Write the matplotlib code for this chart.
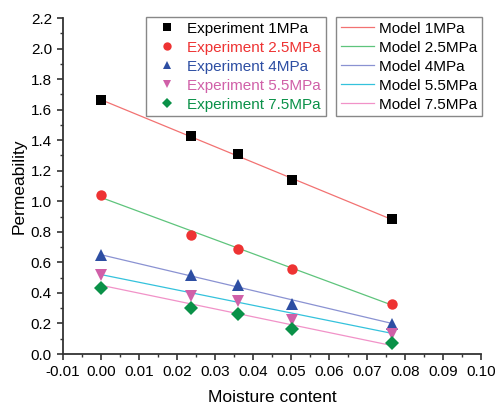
import matplotlib
matplotlib.use("Agg")
import matplotlib.pyplot as plt
from matplotlib.ticker import MultipleLocator, FormatStrFormatter

plt.rcParams['font.family'] = ['Liberation Sans', 'DejaVu Sans']

# moisture content (x)
moisture = [0.0, 0.0237, 0.036, 0.0503, 0.0766]

# measured permeability
exp_1 = [1.66, 1.43, 1.31, 1.14, 0.885]
exp_25 = [1.04, 0.78, 0.685, 0.555, 0.33]
exp_4 = [0.645, 0.515, 0.45, 0.33, 0.195]
exp_55 = [0.52, 0.38, 0.345, 0.22, 0.13]
exp_75 = [0.435, 0.30, 0.265, 0.165, 0.075]

# model lines: values at start / end of moisture range
model_x = [0.0, 0.0766]
model_1 = [1.665, 0.88]
model_25 = [1.025, 0.32]
model_4 = [0.65, 0.20]
model_55 = [0.52, 0.135]
model_75 = [0.45, 0.055]

pressures = ['1MPa', '2.5MPa', '4MPa', '5.5MPa', '7.5MPa']

exp_series = [exp_1, exp_25, exp_4, exp_55, exp_75]
exp_colors = ['#000000', '#ee3333', '#2d4ea3', '#d060a8', '#0a9148']
exp_markers = ['s', 'o', '^', 'v', 'D']
exp_sizes = [6.5, 7.5, 8, 8, 7]

model_series = [model_1, model_25, model_4, model_55, model_75]
model_colors = ['#f27272', '#5ec47c', '#8a92d2', '#34c2dc', '#f192c8']

fig = plt.figure(figsize=(4.95, 4.04), dpi=100)
ax = fig.add_axes([63 / 495, 50 / 404, 418 / 495, 336 / 404])

# 模型直线
model_handles = []
for vals, c, p in zip(model_series, model_colors, pressures):
    h, = ax.plot(model_x, vals, color=c, linewidth=0.9, label=f'Model {p}', zorder=2)
    model_handles.append(h)

# 实验点
exp_handles = []
for vals, c, m, s, p in zip(exp_series, exp_colors, exp_markers, exp_sizes, pressures):
    h, = ax.plot(moisture, vals, linestyle='none', marker=m, markersize=s, color=c,
                 markeredgewidth=0, label=f'Experiment {p}', zorder=3)
    exp_handles.append(h)

ax.set_xlim(-0.01, 0.10)
ax.set_ylim(0.0, 2.2)
ax.xaxis.set_major_locator(MultipleLocator(0.01))
ax.xaxis.set_minor_locator(MultipleLocator(0.005))
ax.yaxis.set_major_locator(MultipleLocator(0.2))
ax.yaxis.set_minor_locator(MultipleLocator(0.1))
ax.xaxis.set_major_formatter(FormatStrFormatter('%.2f'))
ax.yaxis.set_major_formatter(FormatStrFormatter('%.1f'))

for side in ['top', 'right']:
    ax.spines[side].set_visible(False)
for side in ['left', 'bottom']:
    ax.spines[side].set_linewidth(1.3)
    ax.spines[side].set_color('#333333')
ax.tick_params(which='major', direction='out', length=4, width=1.2, color='#333333',
               labelsize=11, pad=4)
ax.tick_params(which='minor', direction='out', length=2.5, width=1.0, color='#333333')

ax.set_xlabel('Moisture content', fontsize=12.5, va='center')
ax.xaxis.set_label_coords(0.5, -0.128)
ax.set_ylabel('Permeability', fontsize=12.5, va='center')
ax.yaxis.set_label_coords(-0.105, 0.5)

# 两个图例
leg1 = ax.legend(handles=exp_handles, loc='upper left', bbox_to_anchor=(0.199, 1.003),
                 borderaxespad=0, fancybox=False, framealpha=1, edgecolor='#888888',
                 fontsize=11, handlelength=2.1, handletextpad=0.3, labelspacing=0.33,
                 borderpad=0.3, markerscale=0.8)
leg1.get_frame().set_linewidth(1.0)
for txt, c in zip(leg1.get_texts(), exp_colors):
    txt.set_color(c)
ax.add_artist(leg1)

leg2 = ax.legend(handles=model_handles, loc='upper right', bbox_to_anchor=(1.002, 1.003),
                 borderaxespad=0, fancybox=False, framealpha=1, edgecolor='#888888',
                 fontsize=11, handlelength=2.2, handletextpad=0.3, labelspacing=0.33,
                 borderpad=0.3)
leg2.get_frame().set_linewidth(1.0)

fig.savefig('out.png', dpi=100)
